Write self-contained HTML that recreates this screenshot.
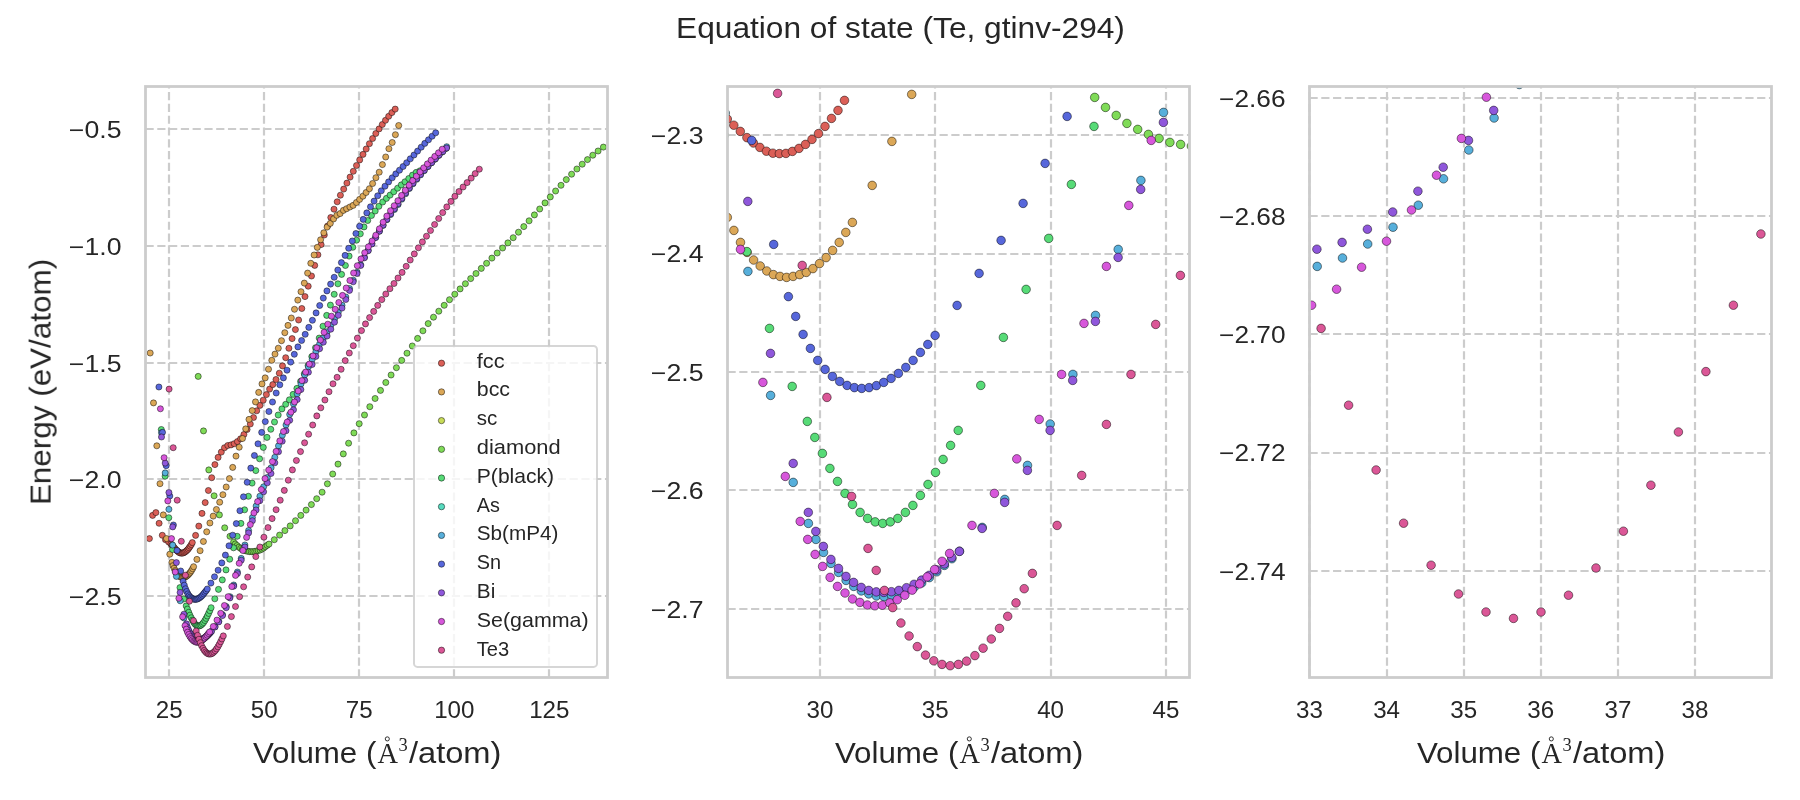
<!DOCTYPE html>
<html><head><meta charset="utf-8"><title>Equation of state</title>
<style>html,body{margin:0;padding:0;background:#fff}svg{display:block}</style></head><body>
<svg width="1800" height="800" viewBox="0 0 1800 800" font-family="Liberation Sans, sans-serif">
<rect width="1800" height="800" fill="#fff"/>
<clipPath id="c1"><rect x="145.50" y="86.50" width="462.00" height="591.00"/></clipPath>
<g stroke="#cccccc" stroke-width="2.2" stroke-dasharray="8.2 3.58" fill="none">
<path d="M169.00 677.50V86.50"/>
<path d="M264.00 677.50V86.50"/>
<path d="M359.00 677.50V86.50"/>
<path d="M454.00 677.50V86.50"/>
<path d="M549.00 677.50V86.50"/>
<path d="M145.50 129.00H607.50"/>
<path d="M145.50 246.00H607.50"/>
<path d="M145.50 363.00H607.50"/>
<path d="M145.50 479.00H607.50"/>
<path d="M145.50 596.00H607.50"/>
</g>
<g clip-path="url(#c1)" stroke="#000" stroke-opacity="0.8" stroke-width="0.6">
<g fill="#db5f57">
<circle cx="149.4" cy="538.6" r="3.05"/>
<circle cx="152.6" cy="515.4" r="3.05"/>
<circle cx="155.9" cy="512.6" r="3.05"/>
<circle cx="159.1" cy="523.3" r="3.05"/>
<circle cx="162.3" cy="535.3" r="3.05"/>
<circle cx="165.5" cy="539.7" r="3.05"/>
<circle cx="168.7" cy="542.0" r="3.05"/>
<circle cx="170.9" cy="543.9" r="3.05"/>
<circle cx="172.0" cy="545.1" r="3.05"/>
<circle cx="173.0" cy="546.3" r="3.05"/>
<circle cx="174.1" cy="547.5" r="3.05"/>
<circle cx="175.2" cy="548.8" r="3.05"/>
<circle cx="176.2" cy="550.0" r="3.05"/>
<circle cx="177.3" cy="551.0" r="3.05"/>
<circle cx="178.4" cy="551.9" r="3.05"/>
<circle cx="179.5" cy="552.7" r="3.05"/>
<circle cx="180.5" cy="553.0" r="3.05"/>
<circle cx="181.6" cy="553.1" r="3.05"/>
<circle cx="182.7" cy="553.1" r="3.05"/>
<circle cx="183.8" cy="552.7" r="3.05"/>
<circle cx="184.8" cy="552.1" r="3.05"/>
<circle cx="185.9" cy="551.3" r="3.05"/>
<circle cx="187.0" cy="550.3" r="3.05"/>
<circle cx="188.1" cy="549.2" r="3.05"/>
<circle cx="189.1" cy="547.8" r="3.05"/>
<circle cx="190.2" cy="546.2" r="3.05"/>
<circle cx="191.3" cy="544.6" r="3.05"/>
<circle cx="192.3" cy="542.6" r="3.05"/>
<circle cx="195.6" cy="535.4" r="3.05"/>
<circle cx="198.8" cy="526.1" r="3.05"/>
<circle cx="202.0" cy="513.4" r="3.05"/>
<circle cx="205.2" cy="502.6" r="3.05"/>
<circle cx="208.4" cy="490.5" r="3.05"/>
<circle cx="211.7" cy="477.7" r="3.05"/>
<circle cx="214.9" cy="464.6" r="3.05"/>
<circle cx="218.1" cy="457.4" r="3.05"/>
<circle cx="221.3" cy="452.1" r="3.05"/>
<circle cx="224.5" cy="447.7" r="3.05"/>
<circle cx="227.8" cy="445.5" r="3.05"/>
<circle cx="231.0" cy="444.9" r="3.05"/>
<circle cx="234.2" cy="443.7" r="3.05"/>
<circle cx="237.4" cy="441.6" r="3.05"/>
<circle cx="240.6" cy="438.8" r="3.05"/>
<circle cx="243.9" cy="434.5" r="3.05"/>
<circle cx="247.1" cy="429.5" r="3.05"/>
<circle cx="250.3" cy="424.0" r="3.05"/>
<circle cx="253.5" cy="417.5" r="3.05"/>
<circle cx="256.7" cy="410.8" r="3.05"/>
<circle cx="259.9" cy="405.4" r="3.05"/>
<circle cx="263.2" cy="400.2" r="3.05"/>
<circle cx="266.4" cy="394.6" r="3.05"/>
<circle cx="269.6" cy="389.1" r="3.05"/>
<circle cx="272.8" cy="384.6" r="3.05"/>
<circle cx="276.0" cy="379.5" r="3.05"/>
<circle cx="279.3" cy="373.2" r="3.05"/>
<circle cx="282.5" cy="365.9" r="3.05"/>
<circle cx="285.7" cy="357.7" r="3.05"/>
<circle cx="288.9" cy="348.3" r="3.05"/>
<circle cx="292.1" cy="338.6" r="3.05"/>
<circle cx="295.4" cy="329.6" r="3.05"/>
<circle cx="298.6" cy="320.0" r="3.05"/>
<circle cx="301.8" cy="308.5" r="3.05"/>
<circle cx="305.0" cy="296.6" r="3.05"/>
<circle cx="308.2" cy="286.2" r="3.05"/>
<circle cx="311.5" cy="276.0" r="3.05"/>
<circle cx="314.7" cy="265.4" r="3.05"/>
<circle cx="317.9" cy="254.8" r="3.05"/>
<circle cx="321.1" cy="244.6" r="3.05"/>
<circle cx="324.3" cy="235.0" r="3.05"/>
<circle cx="327.6" cy="226.0" r="3.05"/>
<circle cx="330.8" cy="217.5" r="3.05"/>
<circle cx="334.0" cy="209.2" r="3.05"/>
<circle cx="337.2" cy="201.8" r="3.05"/>
<circle cx="340.4" cy="195.2" r="3.05"/>
<circle cx="343.7" cy="189.1" r="3.05"/>
<circle cx="346.9" cy="183.1" r="3.05"/>
<circle cx="350.1" cy="177.1" r="3.05"/>
<circle cx="353.3" cy="171.3" r="3.05"/>
<circle cx="356.5" cy="165.5" r="3.05"/>
<circle cx="359.7" cy="159.9" r="3.05"/>
<circle cx="363.0" cy="154.4" r="3.05"/>
<circle cx="366.2" cy="149.0" r="3.05"/>
<circle cx="369.4" cy="143.7" r="3.05"/>
<circle cx="372.6" cy="138.5" r="3.05"/>
<circle cx="375.8" cy="133.5" r="3.05"/>
<circle cx="379.1" cy="128.9" r="3.05"/>
<circle cx="382.3" cy="124.5" r="3.05"/>
<circle cx="385.5" cy="120.3" r="3.05"/>
<circle cx="388.7" cy="116.3" r="3.05"/>
<circle cx="391.9" cy="112.6" r="3.05"/>
<circle cx="395.2" cy="109.1" r="3.05"/>
</g>
<g fill="#dba757">
<circle cx="150.2" cy="353.0" r="3.05"/>
<circle cx="153.5" cy="402.9" r="3.05"/>
<circle cx="156.8" cy="445.8" r="3.05"/>
<circle cx="160.0" cy="483.7" r="3.05"/>
<circle cx="163.3" cy="514.9" r="3.05"/>
<circle cx="166.5" cy="538.6" r="3.05"/>
<circle cx="169.8" cy="554.2" r="3.05"/>
<circle cx="171.9" cy="562.3" r="3.05"/>
<circle cx="173.0" cy="565.7" r="3.05"/>
<circle cx="174.1" cy="568.3" r="3.05"/>
<circle cx="175.2" cy="570.6" r="3.05"/>
<circle cx="176.3" cy="572.6" r="3.05"/>
<circle cx="177.4" cy="574.1" r="3.05"/>
<circle cx="178.5" cy="575.3" r="3.05"/>
<circle cx="179.5" cy="576.3" r="3.05"/>
<circle cx="180.6" cy="577.0" r="3.05"/>
<circle cx="181.7" cy="577.3" r="3.05"/>
<circle cx="182.8" cy="577.5" r="3.05"/>
<circle cx="183.9" cy="577.3" r="3.05"/>
<circle cx="185.0" cy="577.0" r="3.05"/>
<circle cx="186.0" cy="576.6" r="3.05"/>
<circle cx="187.1" cy="575.8" r="3.05"/>
<circle cx="188.2" cy="574.8" r="3.05"/>
<circle cx="189.3" cy="573.6" r="3.05"/>
<circle cx="190.4" cy="572.2" r="3.05"/>
<circle cx="191.5" cy="570.6" r="3.05"/>
<circle cx="192.6" cy="568.7" r="3.05"/>
<circle cx="193.6" cy="566.7" r="3.05"/>
<circle cx="196.9" cy="559.4" r="3.05"/>
<circle cx="200.1" cy="550.7" r="3.05"/>
<circle cx="203.4" cy="541.5" r="3.05"/>
<circle cx="206.7" cy="531.8" r="3.05"/>
<circle cx="209.9" cy="523.0" r="3.05"/>
<circle cx="213.2" cy="516.1" r="3.05"/>
<circle cx="216.4" cy="509.5" r="3.05"/>
<circle cx="219.7" cy="502.2" r="3.05"/>
<circle cx="222.9" cy="494.7" r="3.05"/>
<circle cx="226.2" cy="487.0" r="3.05"/>
<circle cx="229.4" cy="478.6" r="3.05"/>
<circle cx="232.7" cy="467.4" r="3.05"/>
<circle cx="236.0" cy="456.1" r="3.05"/>
<circle cx="239.2" cy="447.2" r="3.05"/>
<circle cx="242.5" cy="438.5" r="3.05"/>
<circle cx="245.7" cy="428.9" r="3.05"/>
<circle cx="249.0" cy="419.4" r="3.05"/>
<circle cx="252.2" cy="410.6" r="3.05"/>
<circle cx="255.5" cy="401.9" r="3.05"/>
<circle cx="258.7" cy="392.4" r="3.05"/>
<circle cx="262.0" cy="383.9" r="3.05"/>
<circle cx="265.2" cy="377.9" r="3.05"/>
<circle cx="268.5" cy="369.2" r="3.05"/>
<circle cx="271.8" cy="360.3" r="3.05"/>
<circle cx="275.0" cy="354.1" r="3.05"/>
<circle cx="278.3" cy="348.2" r="3.05"/>
<circle cx="281.5" cy="340.7" r="3.05"/>
<circle cx="284.8" cy="332.7" r="3.05"/>
<circle cx="288.0" cy="325.4" r="3.05"/>
<circle cx="291.3" cy="318.0" r="3.05"/>
<circle cx="294.5" cy="309.3" r="3.05"/>
<circle cx="297.8" cy="300.1" r="3.05"/>
<circle cx="301.0" cy="291.7" r="3.05"/>
<circle cx="304.3" cy="283.1" r="3.05"/>
<circle cx="307.6" cy="273.1" r="3.05"/>
<circle cx="310.8" cy="263.3" r="3.05"/>
<circle cx="314.1" cy="255.0" r="3.05"/>
<circle cx="317.3" cy="247.4" r="3.05"/>
<circle cx="320.6" cy="239.8" r="3.05"/>
<circle cx="323.8" cy="232.8" r="3.05"/>
<circle cx="327.1" cy="227.1" r="3.05"/>
<circle cx="330.3" cy="223.4" r="3.05"/>
<circle cx="333.6" cy="218.9" r="3.05"/>
<circle cx="336.8" cy="215.3" r="3.05"/>
<circle cx="340.1" cy="213.6" r="3.05"/>
<circle cx="343.4" cy="210.4" r="3.05"/>
<circle cx="346.6" cy="208.7" r="3.05"/>
<circle cx="349.9" cy="207.0" r="3.05"/>
<circle cx="353.1" cy="205.4" r="3.05"/>
<circle cx="356.4" cy="202.5" r="3.05"/>
<circle cx="359.6" cy="199.4" r="3.05"/>
<circle cx="362.9" cy="196.2" r="3.05"/>
<circle cx="366.1" cy="192.5" r="3.05"/>
<circle cx="369.4" cy="188.7" r="3.05"/>
<circle cx="372.6" cy="183.5" r="3.05"/>
<circle cx="375.9" cy="177.7" r="3.05"/>
<circle cx="379.2" cy="172.2" r="3.05"/>
<circle cx="382.4" cy="164.6" r="3.05"/>
<circle cx="385.7" cy="157.0" r="3.05"/>
<circle cx="388.9" cy="148.7" r="3.05"/>
<circle cx="392.2" cy="142.5" r="3.05"/>
<circle cx="395.4" cy="134.7" r="3.05"/>
<circle cx="398.7" cy="125.5" r="3.05"/>
</g>
<g fill="#7fdb57">
<circle cx="198.2" cy="376.4" r="3.05"/>
<circle cx="203.5" cy="430.9" r="3.05"/>
<circle cx="208.8" cy="469.9" r="3.05"/>
<circle cx="214.1" cy="495.8" r="3.05"/>
<circle cx="219.4" cy="514.9" r="3.05"/>
<circle cx="224.7" cy="527.8" r="3.05"/>
<circle cx="230.0" cy="536.3" r="3.05"/>
<circle cx="233.6" cy="542.0" r="3.05"/>
<circle cx="235.3" cy="544.0" r="3.05"/>
<circle cx="237.1" cy="545.6" r="3.05"/>
<circle cx="238.9" cy="547.2" r="3.05"/>
<circle cx="240.6" cy="548.4" r="3.05"/>
<circle cx="242.4" cy="549.3" r="3.05"/>
<circle cx="244.2" cy="550.1" r="3.05"/>
<circle cx="246.0" cy="550.9" r="3.05"/>
<circle cx="247.7" cy="551.3" r="3.05"/>
<circle cx="249.5" cy="551.6" r="3.05"/>
<circle cx="251.3" cy="551.7" r="3.05"/>
<circle cx="253.0" cy="551.6" r="3.05"/>
<circle cx="254.8" cy="551.4" r="3.05"/>
<circle cx="256.6" cy="551.0" r="3.05"/>
<circle cx="258.3" cy="550.6" r="3.05"/>
<circle cx="260.1" cy="550.0" r="3.05"/>
<circle cx="261.9" cy="549.1" r="3.05"/>
<circle cx="263.7" cy="548.0" r="3.05"/>
<circle cx="265.4" cy="546.6" r="3.05"/>
<circle cx="267.2" cy="545.3" r="3.05"/>
<circle cx="269.0" cy="544.1" r="3.05"/>
<circle cx="274.3" cy="539.7" r="3.05"/>
<circle cx="279.6" cy="535.1" r="3.05"/>
<circle cx="284.9" cy="530.6" r="3.05"/>
<circle cx="290.2" cy="525.9" r="3.05"/>
<circle cx="295.5" cy="520.7" r="3.05"/>
<circle cx="300.8" cy="515.4" r="3.05"/>
<circle cx="306.1" cy="510.1" r="3.05"/>
<circle cx="311.4" cy="504.6" r="3.05"/>
<circle cx="316.7" cy="498.7" r="3.05"/>
<circle cx="322.1" cy="492.2" r="3.05"/>
<circle cx="327.4" cy="483.8" r="3.05"/>
<circle cx="332.7" cy="474.0" r="3.05"/>
<circle cx="338.0" cy="464.1" r="3.05"/>
<circle cx="343.3" cy="453.9" r="3.05"/>
<circle cx="348.6" cy="443.2" r="3.05"/>
<circle cx="353.9" cy="432.9" r="3.05"/>
<circle cx="359.2" cy="423.7" r="3.05"/>
<circle cx="364.5" cy="415.0" r="3.05"/>
<circle cx="369.8" cy="406.7" r="3.05"/>
<circle cx="375.1" cy="398.5" r="3.05"/>
<circle cx="380.5" cy="390.4" r="3.05"/>
<circle cx="385.8" cy="382.5" r="3.05"/>
<circle cx="391.1" cy="375.0" r="3.05"/>
<circle cx="396.4" cy="367.7" r="3.05"/>
<circle cx="401.7" cy="360.4" r="3.05"/>
<circle cx="407.0" cy="353.2" r="3.05"/>
<circle cx="412.3" cy="346.0" r="3.05"/>
<circle cx="417.6" cy="338.4" r="3.05"/>
<circle cx="422.9" cy="330.8" r="3.05"/>
<circle cx="428.2" cy="323.6" r="3.05"/>
<circle cx="433.5" cy="317.2" r="3.05"/>
<circle cx="438.8" cy="311.2" r="3.05"/>
<circle cx="444.2" cy="305.3" r="3.05"/>
<circle cx="449.5" cy="299.7" r="3.05"/>
<circle cx="454.8" cy="294.2" r="3.05"/>
<circle cx="460.1" cy="288.9" r="3.05"/>
<circle cx="465.4" cy="283.7" r="3.05"/>
<circle cx="470.7" cy="278.6" r="3.05"/>
<circle cx="476.0" cy="273.5" r="3.05"/>
<circle cx="481.3" cy="268.4" r="3.05"/>
<circle cx="486.6" cy="263.3" r="3.05"/>
<circle cx="491.9" cy="258.1" r="3.05"/>
<circle cx="497.2" cy="253.0" r="3.05"/>
<circle cx="502.6" cy="248.0" r="3.05"/>
<circle cx="507.9" cy="242.9" r="3.05"/>
<circle cx="513.2" cy="237.7" r="3.05"/>
<circle cx="518.5" cy="232.2" r="3.05"/>
<circle cx="523.8" cy="226.6" r="3.05"/>
<circle cx="529.1" cy="220.8" r="3.05"/>
<circle cx="534.4" cy="214.9" r="3.05"/>
<circle cx="539.7" cy="209.0" r="3.05"/>
<circle cx="545.0" cy="202.9" r="3.05"/>
<circle cx="550.3" cy="196.9" r="3.05"/>
<circle cx="555.6" cy="191.0" r="3.05"/>
<circle cx="561.0" cy="185.3" r="3.05"/>
<circle cx="566.3" cy="179.6" r="3.05"/>
<circle cx="571.6" cy="174.2" r="3.05"/>
<circle cx="576.9" cy="169.0" r="3.05"/>
<circle cx="582.2" cy="164.2" r="3.05"/>
<circle cx="587.5" cy="159.6" r="3.05"/>
<circle cx="592.8" cy="155.2" r="3.05"/>
<circle cx="598.1" cy="151.0" r="3.05"/>
<circle cx="603.4" cy="147.1" r="3.05"/>
</g>
<g fill="#57db77">
<circle cx="161.3" cy="429.5" r="3.05"/>
<circle cx="165.1" cy="476.2" r="3.05"/>
<circle cx="168.8" cy="517.7" r="3.05"/>
<circle cx="172.5" cy="549.5" r="3.05"/>
<circle cx="176.3" cy="572.5" r="3.05"/>
<circle cx="180.0" cy="587.6" r="3.05"/>
<circle cx="183.7" cy="599.0" r="3.05"/>
<circle cx="186.2" cy="605.9" r="3.05"/>
<circle cx="187.4" cy="609.1" r="3.05"/>
<circle cx="188.7" cy="612.3" r="3.05"/>
<circle cx="189.9" cy="615.2" r="3.05"/>
<circle cx="191.2" cy="617.8" r="3.05"/>
<circle cx="192.4" cy="620.1" r="3.05"/>
<circle cx="193.7" cy="622.3" r="3.05"/>
<circle cx="194.9" cy="623.9" r="3.05"/>
<circle cx="196.1" cy="625.1" r="3.05"/>
<circle cx="197.4" cy="625.8" r="3.05"/>
<circle cx="198.6" cy="626.1" r="3.05"/>
<circle cx="199.9" cy="625.8" r="3.05"/>
<circle cx="201.1" cy="625.1" r="3.05"/>
<circle cx="202.4" cy="623.9" r="3.05"/>
<circle cx="203.6" cy="622.5" r="3.05"/>
<circle cx="204.9" cy="620.5" r="3.05"/>
<circle cx="206.1" cy="618.4" r="3.05"/>
<circle cx="207.3" cy="616.0" r="3.05"/>
<circle cx="208.6" cy="613.4" r="3.05"/>
<circle cx="209.8" cy="610.7" r="3.05"/>
<circle cx="211.1" cy="607.7" r="3.05"/>
<circle cx="214.8" cy="598.8" r="3.05"/>
<circle cx="218.5" cy="589.4" r="3.05"/>
<circle cx="222.3" cy="579.9" r="3.05"/>
<circle cx="226.0" cy="569.9" r="3.05"/>
<circle cx="229.7" cy="559.2" r="3.05"/>
<circle cx="233.5" cy="547.8" r="3.05"/>
<circle cx="237.2" cy="536.3" r="3.05"/>
<circle cx="240.9" cy="523.4" r="3.05"/>
<circle cx="244.6" cy="509.8" r="3.05"/>
<circle cx="248.4" cy="496.3" r="3.05"/>
<circle cx="252.1" cy="483.1" r="3.05"/>
<circle cx="255.8" cy="470.6" r="3.05"/>
<circle cx="259.6" cy="458.8" r="3.05"/>
<circle cx="263.3" cy="447.4" r="3.05"/>
<circle cx="267.0" cy="437.4" r="3.05"/>
<circle cx="270.8" cy="429.3" r="3.05"/>
<circle cx="274.5" cy="422.0" r="3.05"/>
<circle cx="278.2" cy="415.0" r="3.05"/>
<circle cx="281.9" cy="408.9" r="3.05"/>
<circle cx="285.7" cy="404.3" r="3.05"/>
<circle cx="289.4" cy="399.8" r="3.05"/>
<circle cx="293.1" cy="394.4" r="3.05"/>
<circle cx="296.9" cy="388.4" r="3.05"/>
<circle cx="300.6" cy="381.4" r="3.05"/>
<circle cx="304.3" cy="373.8" r="3.05"/>
<circle cx="308.1" cy="365.5" r="3.05"/>
<circle cx="311.8" cy="356.6" r="3.05"/>
<circle cx="315.5" cy="347.7" r="3.05"/>
<circle cx="319.2" cy="338.1" r="3.05"/>
<circle cx="323.0" cy="326.2" r="3.05"/>
<circle cx="326.7" cy="315.4" r="3.05"/>
<circle cx="330.4" cy="305.1" r="3.05"/>
<circle cx="334.2" cy="294.3" r="3.05"/>
<circle cx="337.9" cy="283.8" r="3.05"/>
<circle cx="341.6" cy="274.4" r="3.05"/>
<circle cx="345.4" cy="265.5" r="3.05"/>
<circle cx="349.1" cy="256.1" r="3.05"/>
<circle cx="352.8" cy="247.3" r="3.05"/>
<circle cx="356.5" cy="240.2" r="3.05"/>
<circle cx="360.3" cy="233.8" r="3.05"/>
<circle cx="364.0" cy="226.9" r="3.05"/>
<circle cx="367.7" cy="220.5" r="3.05"/>
<circle cx="371.5" cy="215.5" r="3.05"/>
<circle cx="375.2" cy="211.0" r="3.05"/>
<circle cx="378.9" cy="206.3" r="3.05"/>
<circle cx="382.7" cy="202.0" r="3.05"/>
<circle cx="386.4" cy="198.4" r="3.05"/>
<circle cx="390.1" cy="195.1" r="3.05"/>
<circle cx="393.8" cy="191.7" r="3.05"/>
<circle cx="397.6" cy="188.2" r="3.05"/>
<circle cx="401.3" cy="184.9" r="3.05"/>
<circle cx="405.0" cy="181.8" r="3.05"/>
<circle cx="408.8" cy="178.5" r="3.05"/>
<circle cx="412.5" cy="175.1" r="3.05"/>
<circle cx="416.2" cy="172.4" r="3.05"/>
<circle cx="420.0" cy="170.8" r="3.05"/>
<circle cx="423.7" cy="169.5" r="3.05"/>
<circle cx="427.4" cy="166.6" r="3.05"/>
<circle cx="431.1" cy="162.9" r="3.05"/>
<circle cx="434.9" cy="159.3" r="3.05"/>
<circle cx="438.6" cy="155.6" r="3.05"/>
<circle cx="442.3" cy="152.0" r="3.05"/>
<circle cx="446.1" cy="148.5" r="3.05"/>
</g>
<g fill="#57afdb">
<circle cx="161.5" cy="432.8" r="3.05"/>
<circle cx="165.2" cy="472.9" r="3.05"/>
<circle cx="168.9" cy="509.3" r="3.05"/>
<circle cx="172.7" cy="545.1" r="3.05"/>
<circle cx="176.4" cy="576.4" r="3.05"/>
<circle cx="180.2" cy="600.8" r="3.05"/>
<circle cx="183.9" cy="618.0" r="3.05"/>
<circle cx="186.4" cy="626.1" r="3.05"/>
<circle cx="187.6" cy="629.2" r="3.05"/>
<circle cx="188.9" cy="631.8" r="3.05"/>
<circle cx="190.1" cy="633.9" r="3.05"/>
<circle cx="191.4" cy="635.7" r="3.05"/>
<circle cx="192.6" cy="637.3" r="3.05"/>
<circle cx="193.9" cy="638.5" r="3.05"/>
<circle cx="195.1" cy="639.4" r="3.05"/>
<circle cx="196.3" cy="640.0" r="3.05"/>
<circle cx="197.6" cy="640.4" r="3.05"/>
<circle cx="198.8" cy="640.5" r="3.05"/>
<circle cx="200.1" cy="640.2" r="3.05"/>
<circle cx="201.3" cy="639.9" r="3.05"/>
<circle cx="202.6" cy="639.3" r="3.05"/>
<circle cx="203.8" cy="638.7" r="3.05"/>
<circle cx="205.1" cy="637.8" r="3.05"/>
<circle cx="206.3" cy="636.7" r="3.05"/>
<circle cx="207.6" cy="635.6" r="3.05"/>
<circle cx="208.8" cy="634.3" r="3.05"/>
<circle cx="210.0" cy="633.0" r="3.05"/>
<circle cx="211.3" cy="631.5" r="3.05"/>
<circle cx="215.0" cy="626.8" r="3.05"/>
<circle cx="218.8" cy="621.3" r="3.05"/>
<circle cx="222.5" cy="614.6" r="3.05"/>
<circle cx="226.2" cy="606.5" r="3.05"/>
<circle cx="230.0" cy="596.7" r="3.05"/>
<circle cx="233.7" cy="585.0" r="3.05"/>
<circle cx="237.4" cy="572.0" r="3.05"/>
<circle cx="241.2" cy="558.4" r="3.05"/>
<circle cx="244.9" cy="545.0" r="3.05"/>
<circle cx="248.6" cy="530.5" r="3.05"/>
<circle cx="252.4" cy="517.5" r="3.05"/>
<circle cx="256.1" cy="506.1" r="3.05"/>
<circle cx="259.9" cy="496.2" r="3.05"/>
<circle cx="263.6" cy="486.8" r="3.05"/>
<circle cx="267.3" cy="477.5" r="3.05"/>
<circle cx="271.1" cy="467.8" r="3.05"/>
<circle cx="274.8" cy="457.3" r="3.05"/>
<circle cx="278.5" cy="445.9" r="3.05"/>
<circle cx="282.3" cy="435.3" r="3.05"/>
<circle cx="286.0" cy="425.0" r="3.05"/>
<circle cx="289.7" cy="414.4" r="3.05"/>
<circle cx="293.5" cy="404.0" r="3.05"/>
<circle cx="297.2" cy="393.8" r="3.05"/>
<circle cx="301.0" cy="383.9" r="3.05"/>
<circle cx="304.7" cy="375.0" r="3.05"/>
<circle cx="308.4" cy="366.8" r="3.05"/>
<circle cx="312.2" cy="359.4" r="3.05"/>
<circle cx="315.9" cy="351.6" r="3.05"/>
<circle cx="319.6" cy="344.1" r="3.05"/>
<circle cx="323.4" cy="338.0" r="3.05"/>
<circle cx="327.1" cy="331.7" r="3.05"/>
<circle cx="330.8" cy="325.3" r="3.05"/>
<circle cx="334.6" cy="318.7" r="3.05"/>
<circle cx="338.3" cy="312.1" r="3.05"/>
<circle cx="342.0" cy="305.3" r="3.05"/>
<circle cx="345.8" cy="297.0" r="3.05"/>
<circle cx="349.5" cy="288.5" r="3.05"/>
<circle cx="353.3" cy="280.2" r="3.05"/>
<circle cx="357.0" cy="272.3" r="3.05"/>
<circle cx="360.7" cy="264.7" r="3.05"/>
<circle cx="364.5" cy="257.3" r="3.05"/>
<circle cx="368.2" cy="250.4" r="3.05"/>
<circle cx="371.9" cy="243.8" r="3.05"/>
<circle cx="375.7" cy="237.4" r="3.05"/>
<circle cx="379.4" cy="231.3" r="3.05"/>
<circle cx="383.1" cy="225.4" r="3.05"/>
<circle cx="386.9" cy="219.7" r="3.05"/>
<circle cx="390.6" cy="214.6" r="3.05"/>
<circle cx="394.4" cy="209.6" r="3.05"/>
<circle cx="398.1" cy="204.6" r="3.05"/>
<circle cx="401.8" cy="199.2" r="3.05"/>
<circle cx="405.6" cy="193.8" r="3.05"/>
<circle cx="409.3" cy="188.6" r="3.05"/>
<circle cx="413.0" cy="183.8" r="3.05"/>
<circle cx="416.8" cy="179.3" r="3.05"/>
<circle cx="420.5" cy="174.9" r="3.05"/>
<circle cx="424.2" cy="170.7" r="3.05"/>
<circle cx="428.0" cy="166.5" r="3.05"/>
<circle cx="431.7" cy="162.4" r="3.05"/>
<circle cx="435.4" cy="158.4" r="3.05"/>
<circle cx="439.2" cy="154.4" r="3.05"/>
<circle cx="442.9" cy="150.5" r="3.05"/>
<circle cx="446.7" cy="146.7" r="3.05"/>
</g>
<g fill="#5767db">
<circle cx="158.9" cy="387.0" r="3.05"/>
<circle cx="162.5" cy="432.4" r="3.05"/>
<circle cx="166.2" cy="465.7" r="3.05"/>
<circle cx="169.8" cy="496.0" r="3.05"/>
<circle cx="173.4" cy="525.0" r="3.05"/>
<circle cx="177.0" cy="550.5" r="3.05"/>
<circle cx="180.7" cy="571.0" r="3.05"/>
<circle cx="183.1" cy="581.3" r="3.05"/>
<circle cx="184.3" cy="585.2" r="3.05"/>
<circle cx="185.5" cy="588.8" r="3.05"/>
<circle cx="186.7" cy="591.5" r="3.05"/>
<circle cx="187.9" cy="593.9" r="3.05"/>
<circle cx="189.1" cy="595.7" r="3.05"/>
<circle cx="190.3" cy="597.1" r="3.05"/>
<circle cx="191.6" cy="598.1" r="3.05"/>
<circle cx="192.8" cy="598.8" r="3.05"/>
<circle cx="194.0" cy="599.3" r="3.05"/>
<circle cx="195.2" cy="599.4" r="3.05"/>
<circle cx="196.4" cy="599.3" r="3.05"/>
<circle cx="197.6" cy="598.9" r="3.05"/>
<circle cx="198.8" cy="598.3" r="3.05"/>
<circle cx="200.0" cy="597.5" r="3.05"/>
<circle cx="201.2" cy="596.5" r="3.05"/>
<circle cx="202.4" cy="595.3" r="3.05"/>
<circle cx="203.6" cy="593.9" r="3.05"/>
<circle cx="204.8" cy="592.3" r="3.05"/>
<circle cx="206.1" cy="590.8" r="3.05"/>
<circle cx="207.3" cy="589.0" r="3.05"/>
<circle cx="210.9" cy="583.1" r="3.05"/>
<circle cx="214.5" cy="576.8" r="3.05"/>
<circle cx="218.1" cy="570.2" r="3.05"/>
<circle cx="221.8" cy="562.9" r="3.05"/>
<circle cx="225.4" cy="555.1" r="3.05"/>
<circle cx="229.0" cy="545.8" r="3.05"/>
<circle cx="232.7" cy="535.2" r="3.05"/>
<circle cx="236.3" cy="523.6" r="3.05"/>
<circle cx="239.9" cy="510.7" r="3.05"/>
<circle cx="243.5" cy="496.8" r="3.05"/>
<circle cx="247.2" cy="482.3" r="3.05"/>
<circle cx="250.8" cy="468.1" r="3.05"/>
<circle cx="254.4" cy="455.5" r="3.05"/>
<circle cx="258.0" cy="443.8" r="3.05"/>
<circle cx="261.7" cy="432.4" r="3.05"/>
<circle cx="265.3" cy="421.6" r="3.05"/>
<circle cx="268.9" cy="411.5" r="3.05"/>
<circle cx="272.5" cy="402.0" r="3.05"/>
<circle cx="276.2" cy="393.0" r="3.05"/>
<circle cx="279.8" cy="384.8" r="3.05"/>
<circle cx="283.4" cy="377.9" r="3.05"/>
<circle cx="287.0" cy="370.2" r="3.05"/>
<circle cx="290.7" cy="362.1" r="3.05"/>
<circle cx="294.3" cy="354.3" r="3.05"/>
<circle cx="297.9" cy="346.9" r="3.05"/>
<circle cx="301.6" cy="340.5" r="3.05"/>
<circle cx="305.2" cy="334.3" r="3.05"/>
<circle cx="308.8" cy="327.4" r="3.05"/>
<circle cx="312.4" cy="320.3" r="3.05"/>
<circle cx="316.1" cy="312.9" r="3.05"/>
<circle cx="319.7" cy="305.5" r="3.05"/>
<circle cx="323.3" cy="298.1" r="3.05"/>
<circle cx="326.9" cy="290.9" r="3.05"/>
<circle cx="330.6" cy="284.1" r="3.05"/>
<circle cx="334.2" cy="277.3" r="3.05"/>
<circle cx="337.8" cy="270.0" r="3.05"/>
<circle cx="341.4" cy="262.6" r="3.05"/>
<circle cx="345.1" cy="255.4" r="3.05"/>
<circle cx="348.7" cy="248.3" r="3.05"/>
<circle cx="352.3" cy="241.0" r="3.05"/>
<circle cx="355.9" cy="233.5" r="3.05"/>
<circle cx="359.6" cy="226.2" r="3.05"/>
<circle cx="363.2" cy="219.4" r="3.05"/>
<circle cx="366.8" cy="212.9" r="3.05"/>
<circle cx="370.5" cy="206.8" r="3.05"/>
<circle cx="374.1" cy="201.1" r="3.05"/>
<circle cx="377.7" cy="195.8" r="3.05"/>
<circle cx="381.3" cy="190.8" r="3.05"/>
<circle cx="385.0" cy="186.2" r="3.05"/>
<circle cx="388.6" cy="181.9" r="3.05"/>
<circle cx="392.2" cy="177.8" r="3.05"/>
<circle cx="395.8" cy="173.9" r="3.05"/>
<circle cx="399.5" cy="170.2" r="3.05"/>
<circle cx="403.1" cy="166.5" r="3.05"/>
<circle cx="406.7" cy="162.7" r="3.05"/>
<circle cx="410.3" cy="158.8" r="3.05"/>
<circle cx="414.0" cy="155.0" r="3.05"/>
<circle cx="417.6" cy="151.1" r="3.05"/>
<circle cx="421.2" cy="147.2" r="3.05"/>
<circle cx="424.8" cy="143.4" r="3.05"/>
<circle cx="428.5" cy="139.8" r="3.05"/>
<circle cx="432.1" cy="136.2" r="3.05"/>
<circle cx="435.7" cy="132.8" r="3.05"/>
</g>
<g fill="#8f57db">
<circle cx="161.5" cy="437.0" r="3.05"/>
<circle cx="165.2" cy="463.1" r="3.05"/>
<circle cx="168.9" cy="492.5" r="3.05"/>
<circle cx="172.7" cy="526.9" r="3.05"/>
<circle cx="176.4" cy="562.6" r="3.05"/>
<circle cx="180.1" cy="592.5" r="3.05"/>
<circle cx="183.9" cy="614.2" r="3.05"/>
<circle cx="186.4" cy="623.9" r="3.05"/>
<circle cx="187.6" cy="627.6" r="3.05"/>
<circle cx="188.9" cy="630.6" r="3.05"/>
<circle cx="190.1" cy="633.2" r="3.05"/>
<circle cx="191.3" cy="634.9" r="3.05"/>
<circle cx="192.6" cy="636.5" r="3.05"/>
<circle cx="193.8" cy="637.7" r="3.05"/>
<circle cx="195.1" cy="638.7" r="3.05"/>
<circle cx="196.3" cy="639.3" r="3.05"/>
<circle cx="197.6" cy="639.6" r="3.05"/>
<circle cx="198.8" cy="639.7" r="3.05"/>
<circle cx="200.1" cy="639.5" r="3.05"/>
<circle cx="201.3" cy="639.3" r="3.05"/>
<circle cx="202.6" cy="638.7" r="3.05"/>
<circle cx="203.8" cy="638.1" r="3.05"/>
<circle cx="205.0" cy="637.2" r="3.05"/>
<circle cx="206.3" cy="636.3" r="3.05"/>
<circle cx="207.5" cy="635.2" r="3.05"/>
<circle cx="208.8" cy="634.0" r="3.05"/>
<circle cx="210.0" cy="632.8" r="3.05"/>
<circle cx="211.3" cy="631.6" r="3.05"/>
<circle cx="215.0" cy="627.0" r="3.05"/>
<circle cx="218.7" cy="621.9" r="3.05"/>
<circle cx="222.5" cy="615.6" r="3.05"/>
<circle cx="226.2" cy="607.7" r="3.05"/>
<circle cx="229.9" cy="597.9" r="3.05"/>
<circle cx="233.7" cy="586.2" r="3.05"/>
<circle cx="237.4" cy="573.6" r="3.05"/>
<circle cx="241.2" cy="560.2" r="3.05"/>
<circle cx="244.9" cy="547.0" r="3.05"/>
<circle cx="248.6" cy="532.9" r="3.05"/>
<circle cx="252.4" cy="520.7" r="3.05"/>
<circle cx="256.1" cy="510.0" r="3.05"/>
<circle cx="259.8" cy="500.7" r="3.05"/>
<circle cx="263.6" cy="491.8" r="3.05"/>
<circle cx="267.3" cy="482.8" r="3.05"/>
<circle cx="271.0" cy="473.5" r="3.05"/>
<circle cx="274.8" cy="462.8" r="3.05"/>
<circle cx="278.5" cy="451.7" r="3.05"/>
<circle cx="282.2" cy="441.2" r="3.05"/>
<circle cx="286.0" cy="430.8" r="3.05"/>
<circle cx="289.7" cy="420.3" r="3.05"/>
<circle cx="293.5" cy="409.8" r="3.05"/>
<circle cx="297.2" cy="399.6" r="3.05"/>
<circle cx="300.9" cy="389.6" r="3.05"/>
<circle cx="304.7" cy="380.3" r="3.05"/>
<circle cx="308.4" cy="372.2" r="3.05"/>
<circle cx="312.1" cy="364.5" r="3.05"/>
<circle cx="315.9" cy="356.4" r="3.05"/>
<circle cx="319.6" cy="348.7" r="3.05"/>
<circle cx="323.3" cy="342.2" r="3.05"/>
<circle cx="327.1" cy="336.0" r="3.05"/>
<circle cx="330.8" cy="329.2" r="3.05"/>
<circle cx="334.5" cy="322.2" r="3.05"/>
<circle cx="338.3" cy="315.3" r="3.05"/>
<circle cx="342.0" cy="308.1" r="3.05"/>
<circle cx="345.8" cy="299.5" r="3.05"/>
<circle cx="349.5" cy="290.4" r="3.05"/>
<circle cx="353.2" cy="281.8" r="3.05"/>
<circle cx="357.0" cy="273.5" r="3.05"/>
<circle cx="360.7" cy="265.5" r="3.05"/>
<circle cx="364.4" cy="257.8" r="3.05"/>
<circle cx="368.2" cy="250.7" r="3.05"/>
<circle cx="371.9" cy="243.9" r="3.05"/>
<circle cx="375.6" cy="237.5" r="3.05"/>
<circle cx="379.4" cy="231.1" r="3.05"/>
<circle cx="383.1" cy="225.1" r="3.05"/>
<circle cx="386.8" cy="219.3" r="3.05"/>
<circle cx="390.6" cy="213.9" r="3.05"/>
<circle cx="394.3" cy="208.8" r="3.05"/>
<circle cx="398.0" cy="203.7" r="3.05"/>
<circle cx="401.8" cy="198.4" r="3.05"/>
<circle cx="405.5" cy="193.0" r="3.05"/>
<circle cx="409.3" cy="188.0" r="3.05"/>
<circle cx="413.0" cy="183.2" r="3.05"/>
<circle cx="416.7" cy="178.7" r="3.05"/>
<circle cx="420.5" cy="174.4" r="3.05"/>
<circle cx="424.2" cy="170.3" r="3.05"/>
<circle cx="427.9" cy="166.4" r="3.05"/>
<circle cx="431.7" cy="162.6" r="3.05"/>
<circle cx="435.4" cy="158.8" r="3.05"/>
<circle cx="439.1" cy="155.1" r="3.05"/>
<circle cx="442.9" cy="151.5" r="3.05"/>
<circle cx="446.6" cy="148.0" r="3.05"/>
</g>
<g fill="#d757db">
<circle cx="160.4" cy="408.8" r="3.05"/>
<circle cx="164.1" cy="457.7" r="3.05"/>
<circle cx="167.8" cy="500.9" r="3.05"/>
<circle cx="171.5" cy="538.6" r="3.05"/>
<circle cx="175.2" cy="572.0" r="3.05"/>
<circle cx="178.9" cy="598.3" r="3.05"/>
<circle cx="182.6" cy="616.8" r="3.05"/>
<circle cx="185.0" cy="625.7" r="3.05"/>
<circle cx="186.3" cy="629.2" r="3.05"/>
<circle cx="187.5" cy="632.2" r="3.05"/>
<circle cx="188.7" cy="634.5" r="3.05"/>
<circle cx="190.0" cy="636.7" r="3.05"/>
<circle cx="191.2" cy="638.5" r="3.05"/>
<circle cx="192.4" cy="639.8" r="3.05"/>
<circle cx="193.7" cy="641.0" r="3.05"/>
<circle cx="194.9" cy="641.6" r="3.05"/>
<circle cx="196.1" cy="642.2" r="3.05"/>
<circle cx="197.3" cy="642.3" r="3.05"/>
<circle cx="198.6" cy="642.2" r="3.05"/>
<circle cx="199.8" cy="641.7" r="3.05"/>
<circle cx="201.0" cy="641.1" r="3.05"/>
<circle cx="202.3" cy="640.2" r="3.05"/>
<circle cx="203.5" cy="639.2" r="3.05"/>
<circle cx="204.7" cy="638.0" r="3.05"/>
<circle cx="206.0" cy="636.6" r="3.05"/>
<circle cx="207.2" cy="635.2" r="3.05"/>
<circle cx="208.4" cy="633.5" r="3.05"/>
<circle cx="209.6" cy="632.0" r="3.05"/>
<circle cx="213.3" cy="626.5" r="3.05"/>
<circle cx="217.0" cy="620.1" r="3.05"/>
<circle cx="220.7" cy="613.3" r="3.05"/>
<circle cx="224.4" cy="605.5" r="3.05"/>
<circle cx="228.1" cy="596.7" r="3.05"/>
<circle cx="231.8" cy="586.6" r="3.05"/>
<circle cx="235.5" cy="575.4" r="3.05"/>
<circle cx="239.2" cy="563.3" r="3.05"/>
<circle cx="242.9" cy="550.5" r="3.05"/>
<circle cx="246.6" cy="537.4" r="3.05"/>
<circle cx="250.3" cy="524.6" r="3.05"/>
<circle cx="253.9" cy="512.9" r="3.05"/>
<circle cx="257.6" cy="501.6" r="3.05"/>
<circle cx="261.3" cy="489.6" r="3.05"/>
<circle cx="265.0" cy="478.6" r="3.05"/>
<circle cx="268.7" cy="470.0" r="3.05"/>
<circle cx="272.4" cy="461.6" r="3.05"/>
<circle cx="276.1" cy="451.4" r="3.05"/>
<circle cx="279.8" cy="440.9" r="3.05"/>
<circle cx="283.5" cy="431.5" r="3.05"/>
<circle cx="287.2" cy="422.1" r="3.05"/>
<circle cx="290.9" cy="412.2" r="3.05"/>
<circle cx="294.5" cy="402.0" r="3.05"/>
<circle cx="298.2" cy="391.0" r="3.05"/>
<circle cx="301.9" cy="380.6" r="3.05"/>
<circle cx="305.6" cy="372.1" r="3.05"/>
<circle cx="309.3" cy="364.1" r="3.05"/>
<circle cx="313.0" cy="355.9" r="3.05"/>
<circle cx="316.7" cy="347.8" r="3.05"/>
<circle cx="320.4" cy="340.0" r="3.05"/>
<circle cx="324.1" cy="332.3" r="3.05"/>
<circle cx="327.8" cy="324.2" r="3.05"/>
<circle cx="331.5" cy="316.2" r="3.05"/>
<circle cx="335.2" cy="309.3" r="3.05"/>
<circle cx="338.8" cy="302.5" r="3.05"/>
<circle cx="342.5" cy="295.4" r="3.05"/>
<circle cx="346.2" cy="288.0" r="3.05"/>
<circle cx="349.9" cy="280.5" r="3.05"/>
<circle cx="353.6" cy="273.0" r="3.05"/>
<circle cx="357.3" cy="265.7" r="3.05"/>
<circle cx="361.0" cy="258.9" r="3.05"/>
<circle cx="364.7" cy="252.7" r="3.05"/>
<circle cx="368.4" cy="246.8" r="3.05"/>
<circle cx="372.1" cy="241.0" r="3.05"/>
<circle cx="375.8" cy="235.2" r="3.05"/>
<circle cx="379.4" cy="228.8" r="3.05"/>
<circle cx="383.1" cy="222.2" r="3.05"/>
<circle cx="386.8" cy="216.1" r="3.05"/>
<circle cx="390.5" cy="210.7" r="3.05"/>
<circle cx="394.2" cy="205.7" r="3.05"/>
<circle cx="397.9" cy="200.7" r="3.05"/>
<circle cx="401.6" cy="195.4" r="3.05"/>
<circle cx="405.3" cy="190.2" r="3.05"/>
<circle cx="409.0" cy="185.2" r="3.05"/>
<circle cx="412.7" cy="180.5" r="3.05"/>
<circle cx="416.4" cy="176.1" r="3.05"/>
<circle cx="420.1" cy="171.9" r="3.05"/>
<circle cx="423.7" cy="167.8" r="3.05"/>
<circle cx="427.4" cy="163.9" r="3.05"/>
<circle cx="431.1" cy="160.1" r="3.05"/>
<circle cx="434.8" cy="156.4" r="3.05"/>
<circle cx="438.5" cy="152.8" r="3.05"/>
<circle cx="442.2" cy="149.2" r="3.05"/>
</g>
<g fill="#db5797">
<circle cx="169.1" cy="389.1" r="3.05"/>
<circle cx="173.2" cy="447.7" r="3.05"/>
<circle cx="177.2" cy="500.2" r="3.05"/>
<circle cx="181.3" cy="541.3" r="3.05"/>
<circle cx="185.4" cy="575.2" r="3.05"/>
<circle cx="189.4" cy="601.2" r="3.05"/>
<circle cx="193.5" cy="620.7" r="3.05"/>
<circle cx="196.2" cy="631.0" r="3.05"/>
<circle cx="197.6" cy="635.3" r="3.05"/>
<circle cx="198.9" cy="639.3" r="3.05"/>
<circle cx="200.3" cy="642.7" r="3.05"/>
<circle cx="201.6" cy="645.7" r="3.05"/>
<circle cx="203.0" cy="648.3" r="3.05"/>
<circle cx="204.3" cy="650.4" r="3.05"/>
<circle cx="205.7" cy="652.0" r="3.05"/>
<circle cx="207.0" cy="653.2" r="3.05"/>
<circle cx="208.4" cy="653.9" r="3.05"/>
<circle cx="209.8" cy="654.1" r="3.05"/>
<circle cx="211.1" cy="653.9" r="3.05"/>
<circle cx="212.5" cy="653.2" r="3.05"/>
<circle cx="213.8" cy="652.1" r="3.05"/>
<circle cx="215.2" cy="650.7" r="3.05"/>
<circle cx="216.5" cy="648.9" r="3.05"/>
<circle cx="217.9" cy="646.8" r="3.05"/>
<circle cx="219.2" cy="644.4" r="3.05"/>
<circle cx="220.6" cy="641.7" r="3.05"/>
<circle cx="221.9" cy="638.9" r="3.05"/>
<circle cx="223.3" cy="635.9" r="3.05"/>
<circle cx="227.4" cy="626.5" r="3.05"/>
<circle cx="231.4" cy="616.6" r="3.05"/>
<circle cx="235.5" cy="606.5" r="3.05"/>
<circle cx="239.6" cy="596.7" r="3.05"/>
<circle cx="243.6" cy="586.8" r="3.05"/>
<circle cx="247.7" cy="577.1" r="3.05"/>
<circle cx="251.7" cy="566.9" r="3.05"/>
<circle cx="255.8" cy="556.6" r="3.05"/>
<circle cx="259.9" cy="547.0" r="3.05"/>
<circle cx="263.9" cy="537.2" r="3.05"/>
<circle cx="268.0" cy="527.6" r="3.05"/>
<circle cx="272.1" cy="518.6" r="3.05"/>
<circle cx="276.1" cy="509.7" r="3.05"/>
<circle cx="280.2" cy="500.2" r="3.05"/>
<circle cx="284.3" cy="490.4" r="3.05"/>
<circle cx="288.3" cy="480.2" r="3.05"/>
<circle cx="292.4" cy="469.9" r="3.05"/>
<circle cx="296.4" cy="460.5" r="3.05"/>
<circle cx="300.5" cy="451.6" r="3.05"/>
<circle cx="304.6" cy="442.8" r="3.05"/>
<circle cx="308.6" cy="434.2" r="3.05"/>
<circle cx="312.7" cy="425.0" r="3.05"/>
<circle cx="316.8" cy="415.9" r="3.05"/>
<circle cx="320.8" cy="407.8" r="3.05"/>
<circle cx="324.9" cy="400.0" r="3.05"/>
<circle cx="329.0" cy="391.7" r="3.05"/>
<circle cx="333.0" cy="383.8" r="3.05"/>
<circle cx="337.1" cy="377.3" r="3.05"/>
<circle cx="341.1" cy="369.3" r="3.05"/>
<circle cx="345.2" cy="360.6" r="3.05"/>
<circle cx="349.3" cy="353.0" r="3.05"/>
<circle cx="353.3" cy="345.7" r="3.05"/>
<circle cx="357.4" cy="338.1" r="3.05"/>
<circle cx="361.5" cy="330.6" r="3.05"/>
<circle cx="365.5" cy="323.9" r="3.05"/>
<circle cx="369.6" cy="317.6" r="3.05"/>
<circle cx="373.7" cy="311.4" r="3.05"/>
<circle cx="377.7" cy="305.4" r="3.05"/>
<circle cx="381.8" cy="299.6" r="3.05"/>
<circle cx="385.8" cy="294.0" r="3.05"/>
<circle cx="389.9" cy="288.7" r="3.05"/>
<circle cx="394.0" cy="283.5" r="3.05"/>
<circle cx="398.0" cy="278.0" r="3.05"/>
<circle cx="402.1" cy="272.4" r="3.05"/>
<circle cx="406.2" cy="266.3" r="3.05"/>
<circle cx="410.2" cy="260.0" r="3.05"/>
<circle cx="414.3" cy="253.9" r="3.05"/>
<circle cx="418.4" cy="247.8" r="3.05"/>
<circle cx="422.4" cy="241.9" r="3.05"/>
<circle cx="426.5" cy="236.2" r="3.05"/>
<circle cx="430.5" cy="230.5" r="3.05"/>
<circle cx="434.6" cy="224.5" r="3.05"/>
<circle cx="438.7" cy="218.5" r="3.05"/>
<circle cx="442.7" cy="212.6" r="3.05"/>
<circle cx="446.8" cy="206.9" r="3.05"/>
<circle cx="450.9" cy="201.4" r="3.05"/>
<circle cx="454.9" cy="196.3" r="3.05"/>
<circle cx="459.0" cy="191.5" r="3.05"/>
<circle cx="463.1" cy="187.0" r="3.05"/>
<circle cx="467.1" cy="182.6" r="3.05"/>
<circle cx="471.2" cy="178.1" r="3.05"/>
<circle cx="475.2" cy="173.6" r="3.05"/>
<circle cx="479.3" cy="169.2" r="3.05"/>
</g>
</g>
<rect x="145.50" y="86.50" width="462.00" height="591.00" fill="none" stroke="#cccccc" stroke-width="2.78"/>
<g fill="#262626" style="will-change:opacity;opacity:0.999">
<text x="169.30" y="718.00" font-size="23.30" text-anchor="middle" textLength="26.87" lengthAdjust="spacingAndGlyphs">25</text>
<text x="264.30" y="718.00" font-size="23.30" text-anchor="middle" textLength="26.87" lengthAdjust="spacingAndGlyphs">50</text>
<text x="359.30" y="718.00" font-size="23.30" text-anchor="middle" textLength="26.87" lengthAdjust="spacingAndGlyphs">75</text>
<text x="454.30" y="718.00" font-size="23.30" text-anchor="middle" textLength="40.31" lengthAdjust="spacingAndGlyphs">100</text>
<text x="549.30" y="718.00" font-size="23.30" text-anchor="middle" textLength="40.31" lengthAdjust="spacingAndGlyphs">125</text>
<text x="121.50" y="138.00" font-size="23.30" text-anchor="end" textLength="52.62" lengthAdjust="spacingAndGlyphs">−0.5</text>
<text x="121.50" y="254.75" font-size="23.30" text-anchor="end" textLength="52.62" lengthAdjust="spacingAndGlyphs">−1.0</text>
<text x="121.50" y="371.50" font-size="23.30" text-anchor="end" textLength="52.62" lengthAdjust="spacingAndGlyphs">−1.5</text>
<text x="121.50" y="488.25" font-size="23.30" text-anchor="end" textLength="52.62" lengthAdjust="spacingAndGlyphs">−2.0</text>
<text x="121.50" y="605.00" font-size="23.30" text-anchor="end" textLength="52.62" lengthAdjust="spacingAndGlyphs">−2.5</text>
<text x="252.90" y="763.30" font-size="29.60" text-anchor="start" textLength="123.52" lengthAdjust="spacingAndGlyphs">Volume (</text>
<text x="377.50" y="763.0" font-family="Liberation Serif, serif" font-size="28.4">A</text>
<circle cx="387.30" cy="738.9" r="2.05" fill="none" stroke="#262626" stroke-width="0.95"/>
<text x="398.50" y="751.2" font-family="Liberation Serif, serif" font-size="18.5">3</text>
<text x="408.90" y="763.30" font-size="29.60" text-anchor="start" textLength="92.57" lengthAdjust="spacingAndGlyphs">/atom)</text>
</g>
<clipPath id="c2"><rect x="727.50" y="86.50" width="462.00" height="591.00"/></clipPath>
<g stroke="#cccccc" stroke-width="2.2" stroke-dasharray="8.2 3.58" fill="none">
<path d="M820.00 677.50V86.50"/>
<path d="M935.00 677.50V86.50"/>
<path d="M1051.00 677.50V86.50"/>
<path d="M1166.00 677.50V86.50"/>
<path d="M727.50 135.00H1189.50"/>
<path d="M727.50 254.00H1189.50"/>
<path d="M727.50 372.00H1189.50"/>
<path d="M727.50 490.00H1189.50"/>
<path d="M727.50 609.00H1189.50"/>
</g>
<g clip-path="url(#c2)" stroke="#000" stroke-opacity="0.8" stroke-width="0.6">
<g fill="#db5f57">
<circle cx="727.3" cy="119.0" r="4.3"/>
<circle cx="733.8" cy="125.2" r="4.3"/>
<circle cx="740.3" cy="131.4" r="4.3"/>
<circle cx="746.9" cy="137.6" r="4.3"/>
<circle cx="753.4" cy="143.0" r="4.3"/>
<circle cx="759.9" cy="147.4" r="4.3"/>
<circle cx="766.4" cy="151.2" r="4.3"/>
<circle cx="772.9" cy="153.2" r="4.3"/>
<circle cx="779.4" cy="153.6" r="4.3"/>
<circle cx="785.9" cy="153.4" r="4.3"/>
<circle cx="792.4" cy="151.4" r="4.3"/>
<circle cx="799.0" cy="148.4" r="4.3"/>
<circle cx="805.5" cy="144.4" r="4.3"/>
<circle cx="812.0" cy="139.4" r="4.3"/>
<circle cx="818.5" cy="133.6" r="4.3"/>
<circle cx="825.0" cy="126.4" r="4.3"/>
<circle cx="831.5" cy="118.4" r="4.3"/>
<circle cx="838.0" cy="110.4" r="4.3"/>
<circle cx="844.5" cy="100.4" r="4.3"/>
</g>
<g fill="#dba757">
<circle cx="727.3" cy="217.4" r="4.3"/>
<circle cx="733.9" cy="230.4" r="4.3"/>
<circle cx="740.5" cy="242.4" r="4.3"/>
<circle cx="747.1" cy="252.4" r="4.3"/>
<circle cx="753.6" cy="260.0" r="4.3"/>
<circle cx="760.2" cy="266.0" r="4.3"/>
<circle cx="766.8" cy="271.0" r="4.3"/>
<circle cx="773.4" cy="274.6" r="4.3"/>
<circle cx="780.0" cy="276.4" r="4.3"/>
<circle cx="786.6" cy="277.4" r="4.3"/>
<circle cx="793.1" cy="276.4" r="4.3"/>
<circle cx="799.7" cy="274.6" r="4.3"/>
<circle cx="806.3" cy="272.4" r="4.3"/>
<circle cx="812.9" cy="268.6" r="4.3"/>
<circle cx="819.5" cy="263.6" r="4.3"/>
<circle cx="826.1" cy="257.6" r="4.3"/>
<circle cx="832.6" cy="250.4" r="4.3"/>
<circle cx="839.2" cy="242.4" r="4.3"/>
<circle cx="845.8" cy="232.4" r="4.3"/>
<circle cx="852.4" cy="222.4" r="4.3"/>
<circle cx="872.2" cy="185.4" r="4.3"/>
<circle cx="891.9" cy="141.4" r="4.3"/>
<circle cx="911.7" cy="94.4" r="4.3"/>
</g>
<g fill="#7fdb57">
<circle cx="1094.7" cy="97.4" r="4.3"/>
<circle cx="1105.5" cy="107.4" r="4.3"/>
<circle cx="1116.2" cy="115.4" r="4.3"/>
<circle cx="1126.9" cy="123.4" r="4.3"/>
<circle cx="1137.7" cy="129.4" r="4.3"/>
<circle cx="1148.4" cy="134.4" r="4.3"/>
<circle cx="1159.1" cy="138.4" r="4.3"/>
<circle cx="1169.9" cy="142.4" r="4.3"/>
<circle cx="1180.6" cy="144.4" r="4.3"/>
<circle cx="1191.4" cy="146.1" r="4.3"/>
</g>
<g fill="#57db77">
<circle cx="724.3" cy="135.2" r="4.3"/>
<circle cx="746.9" cy="251.6" r="4.3"/>
<circle cx="769.5" cy="328.4" r="4.3"/>
<circle cx="792.2" cy="386.4" r="4.3"/>
<circle cx="807.3" cy="421.4" r="4.3"/>
<circle cx="814.8" cy="437.4" r="4.3"/>
<circle cx="822.4" cy="453.4" r="4.3"/>
<circle cx="829.9" cy="468.4" r="4.3"/>
<circle cx="837.5" cy="481.4" r="4.3"/>
<circle cx="845.0" cy="493.4" r="4.3"/>
<circle cx="852.5" cy="504.4" r="4.3"/>
<circle cx="860.1" cy="512.4" r="4.3"/>
<circle cx="867.6" cy="518.4" r="4.3"/>
<circle cx="875.2" cy="521.9" r="4.3"/>
<circle cx="882.7" cy="523.4" r="4.3"/>
<circle cx="890.3" cy="521.9" r="4.3"/>
<circle cx="897.8" cy="518.4" r="4.3"/>
<circle cx="905.4" cy="512.4" r="4.3"/>
<circle cx="912.9" cy="505.4" r="4.3"/>
<circle cx="920.4" cy="495.4" r="4.3"/>
<circle cx="928.0" cy="484.4" r="4.3"/>
<circle cx="935.5" cy="472.4" r="4.3"/>
<circle cx="943.1" cy="459.4" r="4.3"/>
<circle cx="950.6" cy="445.4" r="4.3"/>
<circle cx="958.2" cy="430.4" r="4.3"/>
<circle cx="980.8" cy="385.4" r="4.3"/>
<circle cx="1003.4" cy="337.4" r="4.3"/>
<circle cx="1026.1" cy="289.4" r="4.3"/>
<circle cx="1048.7" cy="238.4" r="4.3"/>
<circle cx="1071.4" cy="184.4" r="4.3"/>
<circle cx="1094.0" cy="126.4" r="4.3"/>
</g>
<g fill="#57afdb">
<circle cx="725.2" cy="113.0" r="4.3"/>
<circle cx="747.9" cy="271.4" r="4.3"/>
<circle cx="770.6" cy="395.4" r="4.3"/>
<circle cx="793.2" cy="482.4" r="4.3"/>
<circle cx="808.4" cy="523.4" r="4.3"/>
<circle cx="815.9" cy="539.4" r="4.3"/>
<circle cx="823.5" cy="552.4" r="4.3"/>
<circle cx="831.0" cy="563.4" r="4.3"/>
<circle cx="838.6" cy="572.4" r="4.3"/>
<circle cx="846.1" cy="580.4" r="4.3"/>
<circle cx="853.7" cy="586.4" r="4.3"/>
<circle cx="861.3" cy="590.9" r="4.3"/>
<circle cx="868.8" cy="593.9" r="4.3"/>
<circle cx="876.4" cy="596.0" r="4.3"/>
<circle cx="883.9" cy="596.6" r="4.3"/>
<circle cx="891.5" cy="595.2" r="4.3"/>
<circle cx="899.0" cy="593.5" r="4.3"/>
<circle cx="906.6" cy="590.7" r="4.3"/>
<circle cx="914.2" cy="587.3" r="4.3"/>
<circle cx="921.7" cy="582.9" r="4.3"/>
<circle cx="929.3" cy="577.6" r="4.3"/>
<circle cx="936.8" cy="571.8" r="4.3"/>
<circle cx="944.4" cy="565.4" r="4.3"/>
<circle cx="951.9" cy="558.7" r="4.3"/>
<circle cx="959.5" cy="551.2" r="4.3"/>
<circle cx="982.2" cy="527.4" r="4.3"/>
<circle cx="1004.8" cy="499.4" r="4.3"/>
<circle cx="1027.5" cy="465.4" r="4.3"/>
<circle cx="1050.2" cy="424.0" r="4.3"/>
<circle cx="1072.9" cy="374.4" r="4.3"/>
<circle cx="1095.5" cy="315.4" r="4.3"/>
<circle cx="1118.2" cy="249.4" r="4.3"/>
<circle cx="1140.9" cy="180.4" r="4.3"/>
<circle cx="1163.5" cy="112.4" r="4.3"/>
</g>
<g fill="#5767db">
<circle cx="751.7" cy="140.4" r="4.3"/>
<circle cx="773.7" cy="244.4" r="4.3"/>
<circle cx="788.4" cy="296.6" r="4.3"/>
<circle cx="795.7" cy="316.4" r="4.3"/>
<circle cx="803.1" cy="334.4" r="4.3"/>
<circle cx="810.4" cy="348.4" r="4.3"/>
<circle cx="817.7" cy="360.4" r="4.3"/>
<circle cx="825.1" cy="369.4" r="4.3"/>
<circle cx="832.4" cy="376.4" r="4.3"/>
<circle cx="839.7" cy="381.4" r="4.3"/>
<circle cx="847.1" cy="385.4" r="4.3"/>
<circle cx="854.4" cy="387.6" r="4.3"/>
<circle cx="861.7" cy="388.4" r="4.3"/>
<circle cx="869.1" cy="387.6" r="4.3"/>
<circle cx="876.4" cy="385.6" r="4.3"/>
<circle cx="883.7" cy="382.4" r="4.3"/>
<circle cx="891.1" cy="378.4" r="4.3"/>
<circle cx="898.4" cy="373.4" r="4.3"/>
<circle cx="905.8" cy="367.4" r="4.3"/>
<circle cx="913.1" cy="360.4" r="4.3"/>
<circle cx="920.4" cy="352.4" r="4.3"/>
<circle cx="927.8" cy="344.4" r="4.3"/>
<circle cx="935.1" cy="335.4" r="4.3"/>
<circle cx="957.1" cy="305.4" r="4.3"/>
<circle cx="979.1" cy="273.4" r="4.3"/>
<circle cx="1001.1" cy="240.4" r="4.3"/>
<circle cx="1023.1" cy="203.4" r="4.3"/>
<circle cx="1045.1" cy="163.4" r="4.3"/>
<circle cx="1067.1" cy="116.4" r="4.3"/>
</g>
<g fill="#8f57db">
<circle cx="747.8" cy="201.4" r="4.3"/>
<circle cx="770.5" cy="353.4" r="4.3"/>
<circle cx="793.2" cy="463.4" r="4.3"/>
<circle cx="808.3" cy="512.4" r="4.3"/>
<circle cx="815.8" cy="531.4" r="4.3"/>
<circle cx="823.4" cy="546.4" r="4.3"/>
<circle cx="830.9" cy="559.4" r="4.3"/>
<circle cx="838.5" cy="568.4" r="4.3"/>
<circle cx="846.0" cy="576.4" r="4.3"/>
<circle cx="853.6" cy="582.4" r="4.3"/>
<circle cx="861.2" cy="587.4" r="4.3"/>
<circle cx="868.7" cy="590.4" r="4.3"/>
<circle cx="876.3" cy="591.9" r="4.3"/>
<circle cx="883.8" cy="592.4" r="4.3"/>
<circle cx="891.4" cy="591.7" r="4.3"/>
<circle cx="898.9" cy="590.4" r="4.3"/>
<circle cx="906.5" cy="587.7" r="4.3"/>
<circle cx="914.1" cy="584.3" r="4.3"/>
<circle cx="921.6" cy="580.1" r="4.3"/>
<circle cx="929.2" cy="575.3" r="4.3"/>
<circle cx="936.7" cy="569.9" r="4.3"/>
<circle cx="944.3" cy="563.9" r="4.3"/>
<circle cx="951.8" cy="557.4" r="4.3"/>
<circle cx="959.4" cy="551.4" r="4.3"/>
<circle cx="982.1" cy="528.4" r="4.3"/>
<circle cx="1004.7" cy="502.4" r="4.3"/>
<circle cx="1027.4" cy="470.4" r="4.3"/>
<circle cx="1050.1" cy="430.4" r="4.3"/>
<circle cx="1072.7" cy="380.4" r="4.3"/>
<circle cx="1095.4" cy="321.4" r="4.3"/>
<circle cx="1118.1" cy="257.4" r="4.3"/>
<circle cx="1140.7" cy="189.4" r="4.3"/>
<circle cx="1163.4" cy="122.4" r="4.3"/>
</g>
<g fill="#d757db">
<circle cx="740.5" cy="249.4" r="4.3"/>
<circle cx="762.9" cy="382.4" r="4.3"/>
<circle cx="785.3" cy="476.4" r="4.3"/>
<circle cx="800.2" cy="521.4" r="4.3"/>
<circle cx="807.7" cy="539.4" r="4.3"/>
<circle cx="815.1" cy="554.4" r="4.3"/>
<circle cx="822.6" cy="566.4" r="4.3"/>
<circle cx="830.1" cy="577.4" r="4.3"/>
<circle cx="837.5" cy="586.4" r="4.3"/>
<circle cx="845.0" cy="593.0" r="4.3"/>
<circle cx="852.5" cy="599.0" r="4.3"/>
<circle cx="859.9" cy="602.4" r="4.3"/>
<circle cx="867.4" cy="605.0" r="4.3"/>
<circle cx="874.9" cy="605.8" r="4.3"/>
<circle cx="882.3" cy="605.2" r="4.3"/>
<circle cx="889.8" cy="602.9" r="4.3"/>
<circle cx="897.3" cy="599.7" r="4.3"/>
<circle cx="904.8" cy="595.3" r="4.3"/>
<circle cx="912.2" cy="590.1" r="4.3"/>
<circle cx="919.7" cy="583.9" r="4.3"/>
<circle cx="927.2" cy="576.9" r="4.3"/>
<circle cx="934.6" cy="569.5" r="4.3"/>
<circle cx="942.1" cy="561.3" r="4.3"/>
<circle cx="949.6" cy="553.4" r="4.3"/>
<circle cx="972.0" cy="525.4" r="4.3"/>
<circle cx="994.4" cy="493.4" r="4.3"/>
<circle cx="1016.8" cy="458.9" r="4.3"/>
<circle cx="1039.2" cy="419.4" r="4.3"/>
<circle cx="1061.6" cy="374.4" r="4.3"/>
<circle cx="1084.0" cy="323.4" r="4.3"/>
<circle cx="1106.4" cy="266.4" r="4.3"/>
<circle cx="1128.8" cy="205.4" r="4.3"/>
<circle cx="1151.2" cy="140.4" r="4.3"/>
</g>
<g fill="#db5797">
<circle cx="777.6" cy="93.4" r="4.3"/>
<circle cx="802.2" cy="265.4" r="4.3"/>
<circle cx="826.9" cy="397.4" r="4.3"/>
<circle cx="851.6" cy="496.4" r="4.3"/>
<circle cx="868.0" cy="548.4" r="4.3"/>
<circle cx="876.2" cy="570.4" r="4.3"/>
<circle cx="884.4" cy="590.4" r="4.3"/>
<circle cx="892.7" cy="607.6" r="4.3"/>
<circle cx="900.9" cy="623.0" r="4.3"/>
<circle cx="909.1" cy="636.0" r="4.3"/>
<circle cx="917.3" cy="646.6" r="4.3"/>
<circle cx="925.5" cy="655.1" r="4.3"/>
<circle cx="933.8" cy="660.8" r="4.3"/>
<circle cx="942.0" cy="664.4" r="4.3"/>
<circle cx="950.2" cy="665.7" r="4.3"/>
<circle cx="958.4" cy="664.4" r="4.3"/>
<circle cx="966.6" cy="661.1" r="4.3"/>
<circle cx="974.9" cy="655.6" r="4.3"/>
<circle cx="983.1" cy="648.2" r="4.3"/>
<circle cx="991.3" cy="639.0" r="4.3"/>
<circle cx="999.5" cy="628.4" r="4.3"/>
<circle cx="1007.7" cy="616.3" r="4.3"/>
<circle cx="1016.0" cy="602.9" r="4.3"/>
<circle cx="1024.2" cy="588.7" r="4.3"/>
<circle cx="1032.4" cy="573.4" r="4.3"/>
<circle cx="1057.1" cy="525.4" r="4.3"/>
<circle cx="1081.7" cy="475.4" r="4.3"/>
<circle cx="1106.4" cy="424.4" r="4.3"/>
<circle cx="1131.0" cy="374.4" r="4.3"/>
<circle cx="1155.7" cy="324.4" r="4.3"/>
<circle cx="1180.4" cy="275.4" r="4.3"/>
</g>
</g>
<rect x="727.50" y="86.50" width="462.00" height="591.00" fill="none" stroke="#cccccc" stroke-width="2.78"/>
<g fill="#262626" style="will-change:opacity;opacity:0.999">
<text x="820.00" y="718.00" font-size="23.30" text-anchor="middle" textLength="26.87" lengthAdjust="spacingAndGlyphs">30</text>
<text x="935.30" y="718.00" font-size="23.30" text-anchor="middle" textLength="26.87" lengthAdjust="spacingAndGlyphs">35</text>
<text x="1050.60" y="718.00" font-size="23.30" text-anchor="middle" textLength="26.87" lengthAdjust="spacingAndGlyphs">40</text>
<text x="1165.90" y="718.00" font-size="23.30" text-anchor="middle" textLength="26.87" lengthAdjust="spacingAndGlyphs">45</text>
<text x="703.50" y="144.00" font-size="23.30" text-anchor="end" textLength="52.62" lengthAdjust="spacingAndGlyphs">−2.3</text>
<text x="703.50" y="262.40" font-size="23.30" text-anchor="end" textLength="52.62" lengthAdjust="spacingAndGlyphs">−2.4</text>
<text x="703.50" y="380.80" font-size="23.30" text-anchor="end" textLength="52.62" lengthAdjust="spacingAndGlyphs">−2.5</text>
<text x="703.50" y="499.20" font-size="23.30" text-anchor="end" textLength="52.62" lengthAdjust="spacingAndGlyphs">−2.6</text>
<text x="703.50" y="617.60" font-size="23.30" text-anchor="end" textLength="52.62" lengthAdjust="spacingAndGlyphs">−2.7</text>
<text x="834.90" y="763.30" font-size="29.60" text-anchor="start" textLength="123.52" lengthAdjust="spacingAndGlyphs">Volume (</text>
<text x="959.50" y="763.0" font-family="Liberation Serif, serif" font-size="28.4">A</text>
<circle cx="969.30" cy="738.9" r="2.05" fill="none" stroke="#262626" stroke-width="0.95"/>
<text x="980.50" y="751.2" font-family="Liberation Serif, serif" font-size="18.5">3</text>
<text x="990.90" y="763.30" font-size="29.60" text-anchor="start" textLength="92.57" lengthAdjust="spacingAndGlyphs">/atom)</text>
</g>
<clipPath id="c3"><rect x="1309.50" y="86.50" width="462.00" height="591.00"/></clipPath>
<g stroke="#cccccc" stroke-width="2.2" stroke-dasharray="8.2 3.58" fill="none">
<path d="M1309.50 677.50V86.50"/>
<path d="M1387.00 677.50V86.50"/>
<path d="M1464.00 677.50V86.50"/>
<path d="M1541.00 677.50V86.50"/>
<path d="M1618.00 677.50V86.50"/>
<path d="M1695.00 677.50V86.50"/>
<path d="M1309.50 98.00H1771.50"/>
<path d="M1309.50 216.00H1771.50"/>
<path d="M1309.50 334.00H1771.50"/>
<path d="M1309.50 453.00H1771.50"/>
<path d="M1309.50 571.00H1771.50"/>
</g>
<g clip-path="url(#c3)" stroke="#000" stroke-opacity="0.8" stroke-width="0.6">
<g fill="#db5f57">
</g>
<g fill="#dba757">
</g>
<g fill="#7fdb57">
</g>
<g fill="#57db77">
</g>
<g fill="#57afdb">
<circle cx="1317.2" cy="266.4" r="4.3"/>
<circle cx="1342.5" cy="258.0" r="4.3"/>
<circle cx="1367.7" cy="244.0" r="4.3"/>
<circle cx="1393.0" cy="227.2" r="4.3"/>
<circle cx="1418.3" cy="205.2" r="4.3"/>
<circle cx="1443.5" cy="178.8" r="4.3"/>
<circle cx="1468.8" cy="150.0" r="4.3"/>
<circle cx="1494.1" cy="118.0" r="4.3"/>
<circle cx="1519.3" cy="84.5" r="4.3"/>
</g>
<g fill="#5767db">
</g>
<g fill="#8f57db">
<circle cx="1316.9" cy="249.2" r="4.3"/>
<circle cx="1342.1" cy="242.4" r="4.3"/>
<circle cx="1367.4" cy="229.2" r="4.3"/>
<circle cx="1392.7" cy="212.0" r="4.3"/>
<circle cx="1417.9" cy="191.2" r="4.3"/>
<circle cx="1443.2" cy="167.2" r="4.3"/>
<circle cx="1468.5" cy="140.4" r="4.3"/>
<circle cx="1493.7" cy="110.4" r="4.3"/>
</g>
<g fill="#d757db">
<circle cx="1311.6" cy="305.2" r="4.3"/>
<circle cx="1336.6" cy="289.2" r="4.3"/>
<circle cx="1361.6" cy="267.2" r="4.3"/>
<circle cx="1386.5" cy="241.2" r="4.3"/>
<circle cx="1411.5" cy="210.0" r="4.3"/>
<circle cx="1436.5" cy="175.2" r="4.3"/>
<circle cx="1461.4" cy="138.4" r="4.3"/>
<circle cx="1486.4" cy="97.2" r="4.3"/>
</g>
<g fill="#db5797">
<circle cx="1321.1" cy="328.4" r="4.3"/>
<circle cx="1348.6" cy="405.2" r="4.3"/>
<circle cx="1376.1" cy="470.0" r="4.3"/>
<circle cx="1403.6" cy="523.2" r="4.3"/>
<circle cx="1431.1" cy="565.2" r="4.3"/>
<circle cx="1458.5" cy="594.0" r="4.3"/>
<circle cx="1486.0" cy="612.0" r="4.3"/>
<circle cx="1513.5" cy="618.4" r="4.3"/>
<circle cx="1541.0" cy="612.0" r="4.3"/>
<circle cx="1568.5" cy="595.2" r="4.3"/>
<circle cx="1596.0" cy="568.0" r="4.3"/>
<circle cx="1623.4" cy="531.2" r="4.3"/>
<circle cx="1650.9" cy="485.2" r="4.3"/>
<circle cx="1678.4" cy="432.0" r="4.3"/>
<circle cx="1705.9" cy="371.6" r="4.3"/>
<circle cx="1733.4" cy="305.2" r="4.3"/>
<circle cx="1760.9" cy="234.0" r="4.3"/>
</g>
</g>
<rect x="1309.50" y="86.50" width="462.00" height="591.00" fill="none" stroke="#cccccc" stroke-width="2.78"/>
<g fill="#262626" style="will-change:opacity;opacity:0.999">
<text x="1309.50" y="718.00" font-size="23.30" text-anchor="middle" textLength="26.87" lengthAdjust="spacingAndGlyphs">33</text>
<text x="1386.60" y="718.00" font-size="23.30" text-anchor="middle" textLength="26.87" lengthAdjust="spacingAndGlyphs">34</text>
<text x="1463.70" y="718.00" font-size="23.30" text-anchor="middle" textLength="26.87" lengthAdjust="spacingAndGlyphs">35</text>
<text x="1540.80" y="718.00" font-size="23.30" text-anchor="middle" textLength="26.87" lengthAdjust="spacingAndGlyphs">36</text>
<text x="1617.90" y="718.00" font-size="23.30" text-anchor="middle" textLength="26.87" lengthAdjust="spacingAndGlyphs">37</text>
<text x="1695.00" y="718.00" font-size="23.30" text-anchor="middle" textLength="26.87" lengthAdjust="spacingAndGlyphs">38</text>
<text x="1285.50" y="106.90" font-size="23.30" text-anchor="end" textLength="66.41" lengthAdjust="spacingAndGlyphs">−2.66</text>
<text x="1285.50" y="225.05" font-size="23.30" text-anchor="end" textLength="66.41" lengthAdjust="spacingAndGlyphs">−2.68</text>
<text x="1285.50" y="343.20" font-size="23.30" text-anchor="end" textLength="66.41" lengthAdjust="spacingAndGlyphs">−2.70</text>
<text x="1285.50" y="461.35" font-size="23.30" text-anchor="end" textLength="66.41" lengthAdjust="spacingAndGlyphs">−2.72</text>
<text x="1285.50" y="579.50" font-size="23.30" text-anchor="end" textLength="66.41" lengthAdjust="spacingAndGlyphs">−2.74</text>
<text x="1416.90" y="763.30" font-size="29.60" text-anchor="start" textLength="123.52" lengthAdjust="spacingAndGlyphs">Volume (</text>
<text x="1541.50" y="763.0" font-family="Liberation Serif, serif" font-size="28.4">A</text>
<circle cx="1551.30" cy="738.9" r="2.05" fill="none" stroke="#262626" stroke-width="0.95"/>
<text x="1562.50" y="751.2" font-family="Liberation Serif, serif" font-size="18.5">3</text>
<text x="1572.90" y="763.30" font-size="29.60" text-anchor="start" textLength="92.57" lengthAdjust="spacingAndGlyphs">/atom)</text>
</g>
<g fill="#262626" style="will-change:opacity;opacity:0.999">
<text x="900.50" y="38.20" font-size="29.60" text-anchor="middle" textLength="448.88" lengthAdjust="spacingAndGlyphs">Equation of state (Te, gtinv-294)</text>
<g transform="translate(50.6 381.95) rotate(-90)">
<text x="0.00" y="0.00" font-size="29.60" text-anchor="middle" textLength="246.25" lengthAdjust="spacingAndGlyphs">Energy (eV/atom)</text>
</g></g>
<rect x="414.0" y="345.9" width="183.0" height="321.0" rx="3.5" ry="3.5" fill="#fff" fill-opacity="0.8" stroke="#cccccc" stroke-opacity="0.8" stroke-width="2"/>
<g stroke="#000" stroke-opacity="0.8" stroke-width="0.6">
<circle cx="441.5" cy="363.20" r="3.15" fill="#db5f57"/>
<circle cx="441.5" cy="391.90" r="3.15" fill="#dba757"/>
<circle cx="441.5" cy="420.60" r="3.15" fill="#c7db57"/>
<circle cx="441.5" cy="449.30" r="3.15" fill="#7fdb57"/>
<circle cx="441.5" cy="478.00" r="3.15" fill="#57db77"/>
<circle cx="441.5" cy="506.70" r="3.15" fill="#57dbbf"/>
<circle cx="441.5" cy="535.40" r="3.15" fill="#57afdb"/>
<circle cx="441.5" cy="564.10" r="3.15" fill="#5767db"/>
<circle cx="441.5" cy="592.80" r="3.15" fill="#8f57db"/>
<circle cx="441.5" cy="621.50" r="3.15" fill="#d757db"/>
<circle cx="441.5" cy="650.20" r="3.15" fill="#db5797"/>
</g><g fill="#262626" style="will-change:opacity;opacity:0.999">
<text x="476.80" y="367.60" font-size="20.30" text-anchor="start" textLength="27.80" lengthAdjust="spacingAndGlyphs">fcc</text>
<text x="476.80" y="396.40" font-size="20.30" text-anchor="start" textLength="33.21" lengthAdjust="spacingAndGlyphs">bcc</text>
<text x="476.80" y="425.20" font-size="20.30" text-anchor="start" textLength="20.51" lengthAdjust="spacingAndGlyphs">sc</text>
<text x="476.80" y="454.00" font-size="20.30" text-anchor="start" textLength="83.87" lengthAdjust="spacingAndGlyphs">diamond</text>
<text x="476.80" y="482.80" font-size="20.30" text-anchor="start" textLength="77.32" lengthAdjust="spacingAndGlyphs">P(black)</text>
<text x="476.80" y="511.60" font-size="20.30" text-anchor="start" textLength="23.08" lengthAdjust="spacingAndGlyphs">As</text>
<text x="476.80" y="540.40" font-size="20.30" text-anchor="start" textLength="81.64" lengthAdjust="spacingAndGlyphs">Sb(mP4)</text>
<text x="476.80" y="569.20" font-size="20.30" text-anchor="start" textLength="24.29" lengthAdjust="spacingAndGlyphs">Sn</text>
<text x="476.80" y="598.00" font-size="20.30" text-anchor="start" textLength="18.46" lengthAdjust="spacingAndGlyphs">Bi</text>
<text x="476.80" y="626.80" font-size="20.30" text-anchor="start" textLength="111.81" lengthAdjust="spacingAndGlyphs">Se(gamma)</text>
<text x="476.80" y="655.60" font-size="20.30" text-anchor="start" textLength="32.41" lengthAdjust="spacingAndGlyphs">Te3</text>
</g>
</svg></body></html>
